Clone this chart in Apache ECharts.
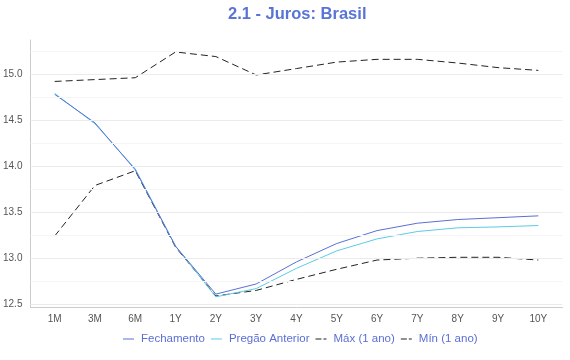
<!DOCTYPE html>
<html><head><meta charset="utf-8">
<script src="https://cdn.jsdelivr.net/npm/echarts@6/dist/echarts.min.js"></script>
<style>html,body{margin:0;padding:0;background:#fff}#c{width:570px;height:360px}</style>
</head><body><div id="c"></div>
<script>
var categories = ['1M','3M','6M','1Y','2Y','3Y','4Y','5Y','6Y','7Y','8Y','9Y','10Y'];
var fechamento = [14.78,14.47,13.96,13.13,12.61,12.72,12.96,13.16,13.30,13.38,13.42,13.44,13.46];
var pregaoAnterior = [14.79,14.46,13.97,13.13,12.58,12.67,12.89,13.08,13.21,13.29,13.33,13.34,13.355];
var maxAno = [14.92,14.94,14.96,15.24,15.19,14.99,15.06,15.13,15.16,15.16,15.12,15.07,15.04];
var minAno = [13.24,13.79,13.95,13.12,12.59,12.65,12.77,12.88,12.98,13.00,13.01,13.01,12.98];
var gridValues = [12.5,12.75,13.0,13.25,13.5,13.75,14.0,14.25,14.5,14.75,15.0,15.25];
var yTickLabels = [12.5,13.0,13.5,14.0,14.5,15.0];

function pts(arr){ return arr.map(function(v,i){ return [i, v]; }); }
var chart = echarts.init(document.getElementById('c'), null, {renderer:'canvas'});
var font = 'Liberation Sans, Arial, sans-serif';
var dash = [7,4];
var solidIcon = 'path://M0,0h11v1h-11z';
var dashIcon = 'path://M0,0h6v1h-6zM8,0h3v1h-3z';
chart.setOption({
  animation:false,
  title:{text:'2.1 - Juros: Brasil', left:223, top:1,
    textStyle:{color:'#5a73d6', fontSize:16.5, fontWeight:'bold', fontFamily:font}},
  grid:{left:27, right:7.5, top:40, bottom:53, containLabel:false},
  legend:{bottom:10, left:118, itemWidth:11, itemHeight:1, itemGap:6,
    data:[{name:'Fechamento', icon:solidIcon},{name:'Pregão Anterior', icon:solidIcon},
          {name:'Máx (1 ano)', icon:dashIcon},{name:'Mín (1 ano)', icon:dashIcon}],
    textStyle:{color:'#5a6fd6', fontSize:11.5, fontFamily:font, padding:[0,0,0,2]}},
  xAxis:{type:'value', min:-0.6, max:12.6, minInterval:1, maxInterval:1, splitNumber:13,
    axisLine:{show:true, onZero:false, lineStyle:{color:'#cccccc'}}, axisTick:{show:false},
    splitLine:{show:false}, showMinLabel:false, showMaxLabel:false,
    axisLabel:{color:'#555', fontSize:10, fontFamily:font, margin:7,
      formatter:function(v){ return (Math.abs(v-Math.round(v))<1e-6 && categories[Math.round(v)]) ? categories[Math.round(v)] : ''; }}},
  yAxis:{type:'value', min:12.47, max:15.37, minInterval:0.5, maxInterval:0.5,
    axisLine:{show:true, onZero:false, lineStyle:{color:'#cccccc'}}, axisTick:{show:false},
    splitLine:{show:false}, showMinLabel:false, showMaxLabel:false,
    axisLabel:{color:'#555', fontSize:10, fontFamily:font, margin:8,
      formatter:function(v){ for (var i=0;i<yTickLabels.length;i++){ if (Math.abs(v-yTickLabels[i])<1e-6) return yTickLabels[i].toFixed(1);} return ''; }}},
  series:[
    {name:'grid', type:'line', data:[], z:0, silent:true,
      markLine:{silent:true, symbol:'none', label:{show:false},
        data: gridValues.map(function(v){ var major = Math.abs(v*2-Math.round(v*2))<1e-6;
          return {yAxis:v, lineStyle:{color: major ? '#ebebeb' : '#f5f5f5', width:1, type:'solid'}}; })}},
    {name:'Fechamento', type:'line', data:pts(fechamento), symbol:'none', z:4,
      lineStyle:{color:'#5a6fd6', width:1}, itemStyle:{color:'#5a6fd6'}},
    {name:'Pregão Anterior', type:'line', data:pts(pregaoAnterior), symbol:'none', z:3,
      lineStyle:{color:'#5ccbe4', width:1}, itemStyle:{color:'#5ccbe4'}},
    {name:'Máx (1 ano)', type:'line', data:pts(maxAno), symbol:'none', z:2,
      lineStyle:{color:'#222', width:1, type:dash}, itemStyle:{color:'#222'}},
    {name:'Mín (1 ano)', type:'line', data:pts(minAno), symbol:'none', z:2,
      lineStyle:{color:'#222', width:1, type:dash}, itemStyle:{color:'#222'}}
  ]
});
</script></body></html>
